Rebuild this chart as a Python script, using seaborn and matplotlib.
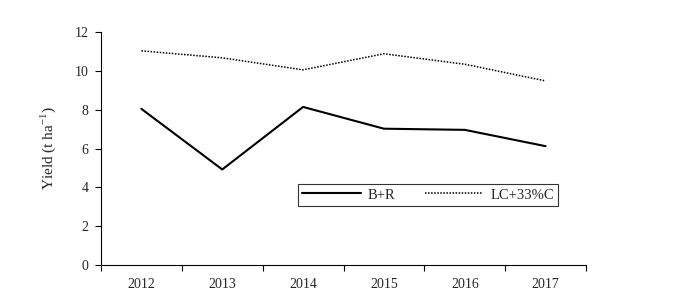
import matplotlib
matplotlib.use("Agg")
import matplotlib.pyplot as plt
import seaborn as sns
import pandas as pd
import numpy as np

years = ["2012", "2013", "2014", "2015", "2016", "2017"]
br = [8.04, 4.92, 8.14, 7.02, 6.96, 6.12]
lc = [11.03, 10.67, 10.05, 10.88, 10.34, 9.48]

sns.set_style("white")
plt.rcParams['font.family'] = ['Liberation Serif', 'DejaVu Serif']
plt.rcParams['mathtext.fontset'] = 'custom'
plt.rcParams['mathtext.rm'] = 'Liberation Serif'

fig = plt.figure(figsize=(6.78, 3.04), dpi=100)
ax = fig.add_axes([101/678, (304-265)/304, (586-101)/678, (265-32)/304])

pos = np.arange(len(years))
df = pd.DataFrame({"pos": np.concatenate([pos, pos]),
                   "val": br + lc,
                   "series": ["B+R"] * len(years) + ["LC+33%C"] * len(years)})
sns.lineplot(data=df[df.series == "B+R"], x="pos", y="val", ax=ax, color="black",
             linewidth=1.5, label="B+R")
sns.lineplot(data=df[df.series == "LC+33%C"], x="pos", y="val", ax=ax, color="black",
             linewidth=1.1, linestyle=(0, (1, 1)), label="LC+33%C")

ax.set_xlim(-0.5, len(years) - 0.5)
ax.set_ylim(0, 12)
ax.set_yticks(range(0, 13, 2))
ax.set_xticks(np.arange(-0.5, len(years), 1.0))
ax.set_xticklabels([])
ax.set_xticks(pos, minor=True)
ax.set_xticklabels(years, minor=True)
ax.tick_params(axis='x', which='minor', length=0, pad=9, labelsize=10)
ax.tick_params(axis='x', which='major', direction='out', length=4, width=0.8, bottom=True, color='black')
ax.tick_params(axis='y', direction='out', length=4, width=0.8, left=True, labelsize=10, pad=5, color='black')
for s in ["top", "right"]:
    ax.spines[s].set_visible(False)
for s in ["left", "bottom"]:
    ax.spines[s].set_color("black")
    ax.spines[s].set_linewidth(0.8)
ax.set_xlabel("")
ax.set_ylabel("Yield (t ha$^{-1}$)", fontsize=11, labelpad=12)

leg = ax.legend(loc="upper left", bbox_to_anchor=((298-101)/485, (265-184)/233),
                ncol=2, frameon=True, fancybox=False, fontsize=10.5, handlelength=4.0,
                columnspacing=2.0, borderpad=0.3, handletextpad=0.5, borderaxespad=0)
leg.get_frame().set_edgecolor("black")
leg.get_frame().set_linewidth(0.8)

fig.savefig("out.png", dpi=100)
